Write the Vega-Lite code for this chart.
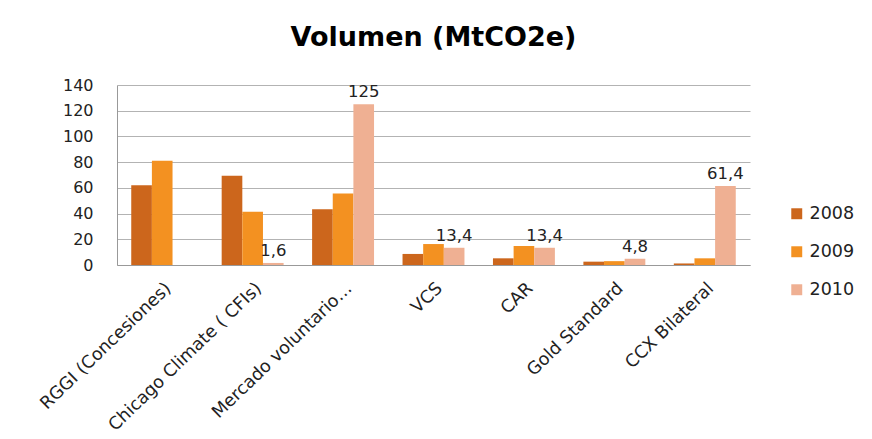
{
  "$schema": "https://vega.github.io/schema/vega-lite/v6.json",
  "width": 633,
  "height": 180,
  "autosize": {"type": "none"},
  "padding": {"left": 117, "top": 85, "right": 122, "bottom": 174},
  "config": {
    "locale": {"number": {"decimal": ",", "thousands": ".", "grouping": [3], "currency": ["", " €"]}},
    "view": {"stroke": null},
    "font": "DejaVu Sans"
  },
  "title": {"text": "Volumen (MtCO2e)", "fontSize": 27, "fontWeight": "bold", "font": "DejaVu Sans", "anchor": "middle", "offset": 25, "color": "#000000"},
  "data": {"values": [
    {"mercado": "RGGI (Concesiones)", "year": "2008", "value": 62},
    {"mercado": "RGGI (Concesiones)", "year": "2009", "value": 81},
    {"mercado": "Chicago Climate ( CFIs)", "year": "2008", "value": 69.5},
    {"mercado": "Chicago Climate ( CFIs)", "year": "2009", "value": 41.5},
    {"mercado": "Chicago Climate ( CFIs)", "year": "2010", "value": 1.6},
    {"mercado": "Mercado voluntario…", "year": "2008", "value": 43.3},
    {"mercado": "Mercado voluntario…", "year": "2009", "value": 55.7},
    {"mercado": "Mercado voluntario…", "year": "2010", "value": 125},
    {"mercado": "VCS", "year": "2008", "value": 8.6},
    {"mercado": "VCS", "year": "2009", "value": 16.3},
    {"mercado": "VCS", "year": "2010", "value": 13.4},
    {"mercado": "CAR", "year": "2008", "value": 5.2},
    {"mercado": "CAR", "year": "2009", "value": 14.8},
    {"mercado": "CAR", "year": "2010", "value": 13.4},
    {"mercado": "Gold Standard", "year": "2008", "value": 2.6},
    {"mercado": "Gold Standard", "year": "2009", "value": 3},
    {"mercado": "Gold Standard", "year": "2010", "value": 4.8},
    {"mercado": "CCX Bilateral", "year": "2008", "value": 1.2},
    {"mercado": "CCX Bilateral", "year": "2009", "value": 5.2},
    {"mercado": "CCX Bilateral", "year": "2010", "value": 61.4}
  ]},
  "encoding": {
    "x": {
      "field": "mercado", "type": "nominal", "sort": null,
      "scale": {"paddingInner": 0, "paddingOuter": 0},
      "axis": {"title": null, "labelAngle": -44, "ticks": false, "domainColor": "#999999", "labelFontSize": 17.5, "labelColor": "#222222", "labelLimit": 400, "labelPadding": 14}
    },
    "xOffset": {"field": "year", "type": "nominal", "scale": {"paddingOuter": 0.69, "paddingInner": 0}},
    "y": {
      "field": "value", "type": "quantitative",
      "scale": {"domain": [0, 140]},
      "axis": {"title": null, "values": [0, 20, 40, 60, 80, 100, 120, 140], "grid": true, "gridColor": "#b3b3b3", "domainColor": "#999999", "ticks": false, "labelFontSize": 16, "labelPadding": 24, "labelColor": "#222222"}
    }
  },
  "layer": [
    {
      "mark": {"type": "bar"},
      "encoding": {
        "color": {
          "field": "year", "type": "nominal",
          "scale": {"domain": ["2008", "2009", "2010"], "range": ["#cc661c", "#f39121", "#efb093"]},
          "legend": {"title": null, "orient": "none", "legendX": 671, "legendY": 120, "symbolType": "square", "symbolSize": 120, "labelFontSize": 17.5, "rowPadding": 19, "labelColor": "#222222", "symbolStrokeWidth": 0}
        }
      }
    },
    {
      "transform": [{"filter": "datum.year == '2010'"}],
      "mark": {"type": "text", "dy": -12, "fontSize": 16.5, "color": "#222222"},
      "encoding": {"text": {"field": "value", "type": "quantitative", "format": ".1~f"}}
    }
  ]
}
